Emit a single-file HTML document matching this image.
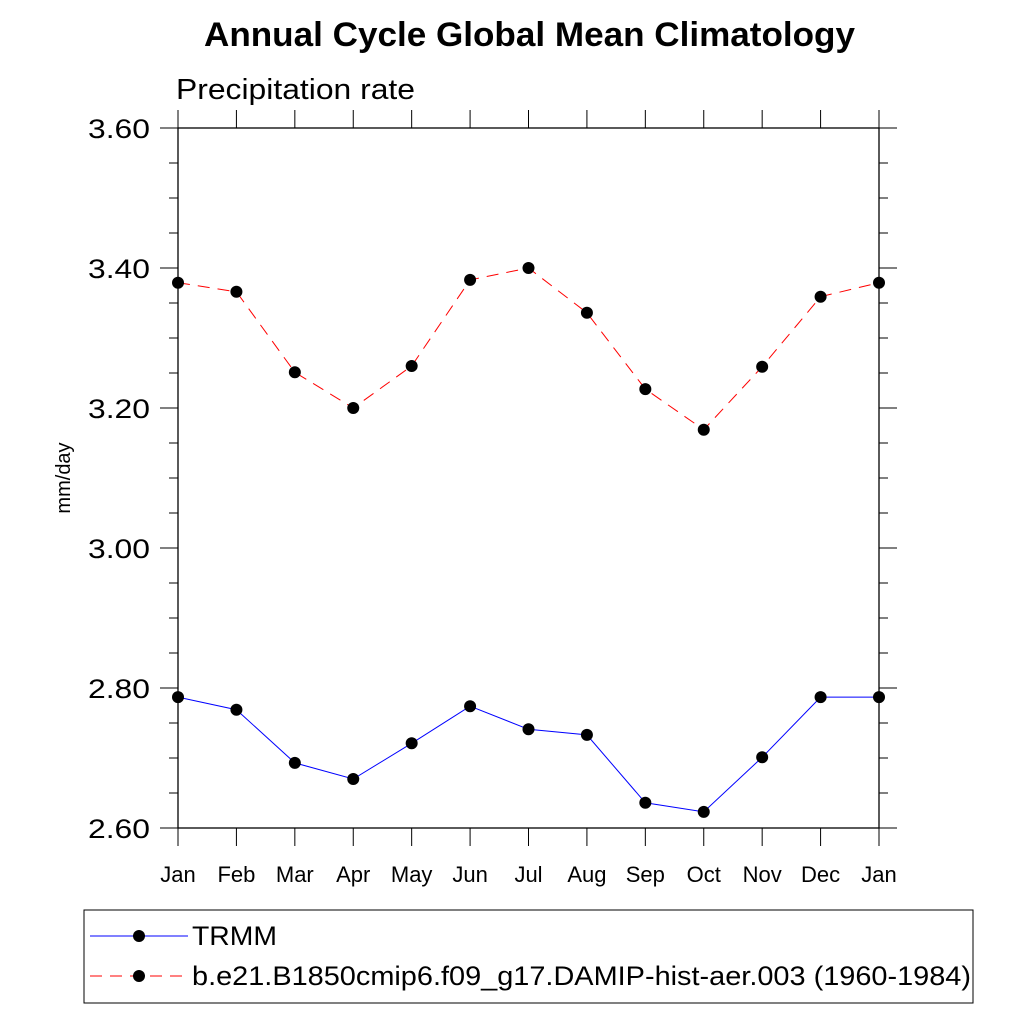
<!DOCTYPE html>
<html><head><meta charset="utf-8"><style>
body{margin:0;background:#fff}
svg{display:block;font-family:"Liberation Sans",sans-serif}
</style></head><body>
<svg id="c" width="1024" height="1024" viewBox="0 0 1024 1024">
<text x="204" y="46" font-size="34" font-weight="bold" textLength="651" lengthAdjust="spacingAndGlyphs">Annual Cycle Global Mean Climatology</text>
<text x="176" y="99" font-size="29" textLength="239" lengthAdjust="spacingAndGlyphs">Precipitation rate</text>
<text transform="translate(70,478) rotate(-90)" text-anchor="middle" font-size="20">mm/day</text>
<rect x="178" y="128" width="701" height="700" fill="none" stroke="#000" stroke-width="1.3"/>
<g id="ax"></g><g id="series"></g>
<rect x="84" y="910" width="889" height="93" fill="none" stroke="#000" stroke-width="1"/>
<g>
<line x1="90" y1="936" x2="188" y2="936" stroke="#0000ff" stroke-width="1"/>
<circle cx="139" cy="936" r="6" fill="#000"/>
<text x="192" y="945" font-size="27" textLength="85" lengthAdjust="spacingAndGlyphs">TRMM</text></g>
<g>
<line x1="90" y1="976" x2="188" y2="976" stroke="#ff0000" stroke-width="1" stroke-dasharray="12,8"/>
<circle cx="139" cy="976" r="6" fill="#000"/>
<text x="192" y="985" font-size="27" textLength="779" lengthAdjust="spacingAndGlyphs">b.e21.B1850cmip6.f09_g17.DAMIP-hist-aer.003 (1960-1984)</text></g>
</svg>
<script>
const months=["Jan","Feb","Mar","Apr","May","Jun","Jul","Aug","Sep","Oct","Nov","Dec","Jan"];
const trmm=[2.787,2.769,2.693,2.670,2.721,2.774,2.741,2.733,2.636,2.623,2.701,2.787,2.787];
const model=[3.379,3.366,3.251,3.200,3.260,3.383,3.400,3.336,3.227,3.169,3.259,3.359,3.379];
const yTicks=["2.60","2.80","3.00","3.20","3.40","3.60"];
const NS="http://www.w3.org/2000/svg";
const X=i=>178+i*(701/12);
const Y=v=>828-(v-2.6)*700;
function mk(t,a,p){const e=document.createElementNS(NS,t);for(const k in a)e.setAttribute(k,a[k]);p.appendChild(e);return e;}
const ax=document.getElementById('ax');
months.forEach((m,i)=>{
 const x=X(i);
 const t1=mk('line',{x1:x,y1:828,x2:x,y2:846,stroke:'#000','stroke-width':1},ax);
 
 
 mk('line',{x1:x,y1:128,x2:x,y2:110,stroke:'#000','stroke-width':1},ax);
 const tx=mk('text',{x:x,y:882,'text-anchor':'middle','font-size':22},ax);
 tx.textContent=m;
 
 
});
for(let k=0;k<=20;k++){
 const v=2.6+k*0.05,y=Y(v),maj=k%4===0,L=maj?18:9;
 mk('line',{x1:178-L,y1:y,x2:178,y2:y,stroke:'#000','stroke-width':1},ax);
 mk('line',{x1:879,y1:y,x2:879+L,y2:y,stroke:'#000','stroke-width':1},ax);
}
yTicks.forEach(t=>{
 const tx=mk('text',{x:88,y:Y(parseFloat(t))+10,'font-size':27,textLength:62,lengthAdjust:'spacingAndGlyphs'},ax);
 tx.textContent=t;
 
 
});
const sg=document.getElementById('series');
function draw(vals,col,dash,name){
 const g=mk('g',{},sg);
 
 
 mk('polyline',{points:vals.map((v,i)=>X(i)+','+Y(v)).join(' '),fill:'none',stroke:col,'stroke-width':1,'stroke-dasharray':dash},g);
 vals.forEach((v,i)=>{
  const c=mk('circle',{cx:X(i),cy:Y(v),r:6,fill:'#000'},g);
  
  
 });
}
draw(trmm,'#0000ff','none','series-trmm');
draw(model,'#ff0000','12,8','series-model');
</script>
</body></html>
